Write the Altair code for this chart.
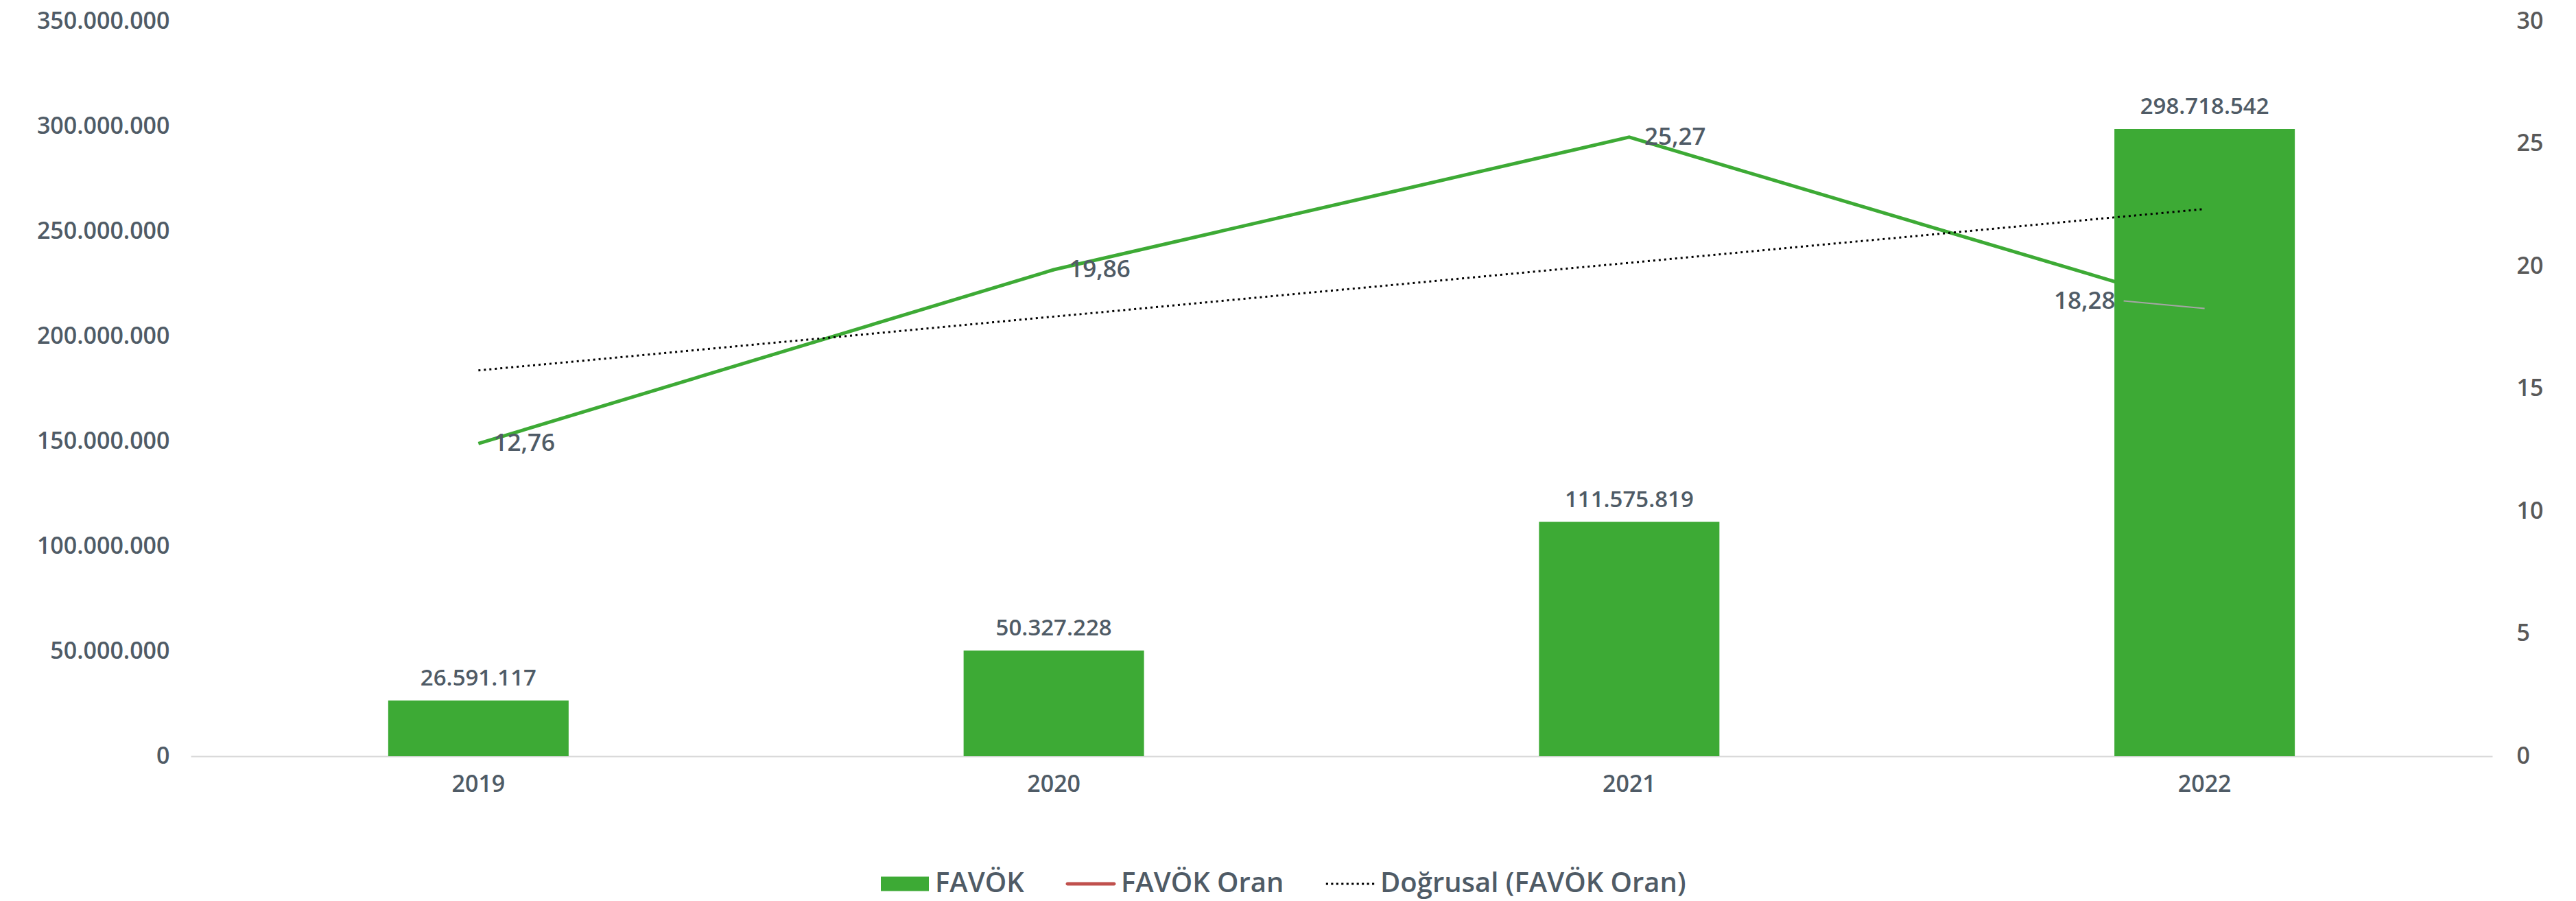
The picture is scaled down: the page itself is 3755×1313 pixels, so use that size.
import altair as alt
import pandas as pd

years = ["2019", "2020", "2021", "2022"]
idx = [1, 2, 3, 4]
favok = [26591117, 50327228, 111575819, 298718542]
oran = [12.76, 19.86, 25.27, 18.28]
series = ["FAVÖK", "FAVÖK Oran", "Doğrusal (FAVÖK Oran)"]
left_ticks = [0, 50000000, 100000000, 150000000, 200000000, 250000000, 300000000, 350000000]
right_ticks = [0, 5, 10, 15, 20, 25, 30]

GREEN = "#3DAA35"
RED = "#C0504D"
TXT = "#4F5B66"
FONT = "Open Sans"
FS = 34

df = pd.DataFrame({"year": years, "idx": idx, "favok": favok, "oran": oran})
legend_df = pd.DataFrame({"series": series})

W, H = 3355, 1071

xscale = alt.Scale(type="band", domain=years, paddingInner=0, paddingOuter=0)
xenc = alt.X("year:N", scale=xscale,
             axis=alt.Axis(title=None, labelAngle=0, labelFont=FONT, labelFontSize=FS, labelFontWeight=600,
                           labelColor=TXT, labelPadding=24, ticks=False, domainColor="#D9D9D9",
                           domainWidth=2, grid=False, labelLimit=0))

yl = alt.Scale(domain=[0, 350000000], nice=False)
yr = alt.Scale(domain=[0, 30], nice=False)

base = alt.Chart(df)

line = base.mark_line(color=GREEN, strokeWidth=5).encode(
    x=xenc,
    y=alt.Y("oran:Q", scale=yr,
            axis=alt.Axis(orient="right", title=None, values=right_ticks, labelFont=FONT, labelFontSize=FS,
                          labelFontWeight=600, labelColor="#595959", labelPadding=35, ticks=False,
                          domain=False, grid=False, labelLimit=0)),
)

bars = base.mark_bar(size=263, color=GREEN).encode(
    x=xenc,
    y=alt.Y("favok:Q", scale=yl,
            axis=alt.Axis(orient="left", title=None, values=left_ticks, format=",.0f", labelFont=FONT,
                          labelFontSize=FS, labelFontWeight=600, labelColor=TXT, labelPadding=31,
                          ticks=False, domain=False, grid=False, labelLimit=0)),
)

bar_labels = base.mark_text(dy=-32, baseline="middle", align="center", font=FONT, fontSize=33,
                            fontWeight=600, color=TXT).encode(
    x=xenc,
    y=alt.Y("favok:Q", scale=yl, axis=None),
    text=alt.Text("favok:Q", format=",d"),
)

trend = base.transform_regression("idx", "oran").transform_calculate(
    year="'' + (2018 + datum.idx)"
).mark_line(color="black", strokeDash=[3, 5], strokeWidth=3).encode(
    x=xenc,
    y=alt.Y("oran:Q", scale=yr, axis=None),
)

line_labels = base.transform_filter("datum.year != '2022'").mark_text(
    dx=22, align="left", baseline="middle", font=FONT, fontSize=35, fontWeight=600, color=TXT
).encode(
    x=xenc,
    y=alt.Y("oran:Q", scale=yr, axis=None),
    text=alt.Text("oran:Q", format=".2f"),
)

last_label = base.transform_filter("datum.year == '2022'").mark_text(
    dx=-130, dy=-10, align="right", baseline="middle", font=FONT, fontSize=35, fontWeight=600, color=TXT
).encode(
    x=xenc,
    y=alt.Y("oran:Q", scale=yr, axis=None),
    text=alt.Text("oran:Q", format=".2f"),
)

leader = base.transform_filter("datum.year == '2022'").mark_rule(
    color="#A6A6A6", strokeWidth=2, x2Offset=-118, y2Offset=-11
).encode(
    x=xenc,
    x2=alt.X2("year:N"),
    y=alt.Y("oran:Q", scale=yr, axis=None),
    y2=alt.Y2("oran:Q"),
)

# legend symbols (unit box [-1, 1])
rect_path = "M-1,-0.3L1,-0.3L1,0.3L-1,0.3Z"
line_path = "M-0.97,-0.072L0.97,-0.072A0.072,0.072 0 0 1 0.97,0.072L-0.97,0.072A0.072,0.072 0 0 1 -0.97,-0.072Z"
dots = []
n = 10
for i in range(n):
    cx = -0.96 + i * (1.92 / (n - 1))
    dots.append(f"M{cx - 0.045:.3f},-0.045h0.09v0.09h-0.09Z")
dot_path = "".join(dots)

leg = alt.Legend(title=None, orient="none", direction="horizontal", legendX=1006, legendY=1222,
                 symbolSize=4900, symbolOpacity=1, symbolStrokeWidth=0, labelFont=FONT,
                 labelFontSize=40, labelFontWeight=600, labelColor=TXT, labelOffset=9, columnPadding=60,
                 labelLimit=0)

legend_layer = alt.Chart(legend_df).mark_point(filled=True, opacity=0).encode(
    color=alt.Color("series:N", scale=alt.Scale(domain=series, range=[GREEN, RED, "black"]), legend=leg),
    shape=alt.Shape("series:N", scale=alt.Scale(domain=series, range=[rect_path, line_path, dot_path]), legend=leg),
)

chart = alt.layer(line, bars, bar_labels, trend, line_labels, last_label, leader, legend_layer).resolve_scale(
    y="independent"
).properties(
    width=W, height=H,
    autosize=alt.AutoSizeParams(type="none"),
    padding={"left": 270, "top": 23, "right": 110, "bottom": 210},
).configure(
    locale={"number": {"decimal": ",", "thousands": ".", "grouping": [3], "currency": ["", ""]}}
).configure_view(stroke=None)

chart.save("out.html", embed_options={"renderer": "svg", "actions": False})
